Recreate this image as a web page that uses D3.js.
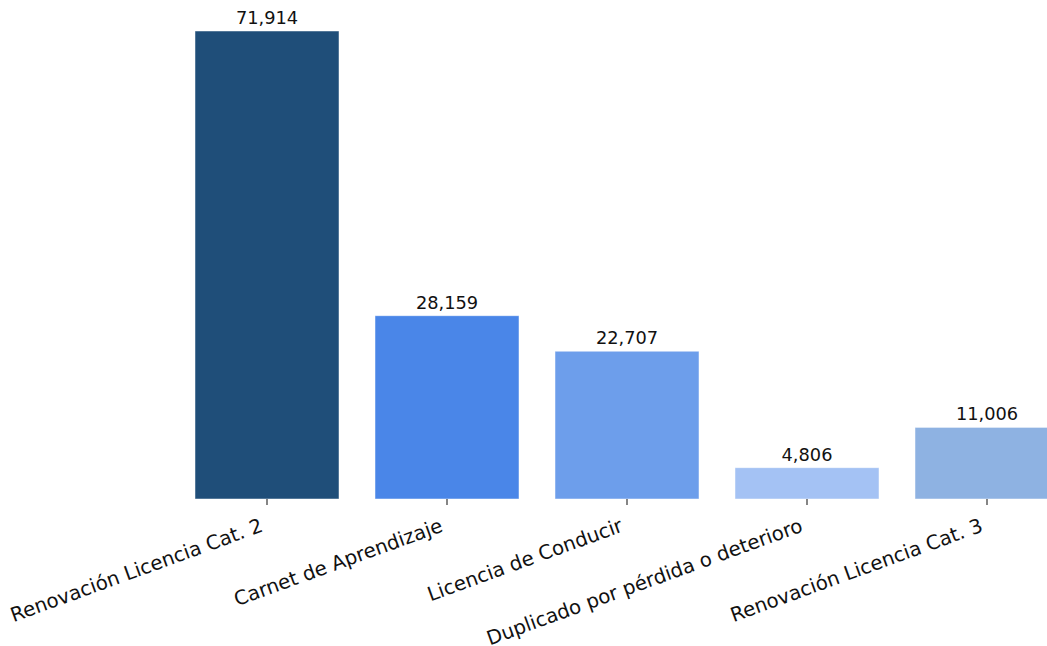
<!DOCTYPE html>
<html>
<head>
<meta charset="utf-8">
<script src="https://cdn.jsdelivr.net/npm/d3@7"></script>
<style>
  html, body { margin: 0; padding: 0; background: #fff; }
  svg { display: block; }
  text { font-family: "DejaVu Sans", sans-serif; fill: #111; }
</style>
</head>
<body>
<div id="chart"></div>
<script>
const categories = [
  "Renovación Licencia Cat. 2",
  "Carnet de Aprendizaje",
  "Licencia de Conducir",
  "Duplicado por pérdida o deterioro",
  "Renovación Licencia Cat. 3"
];
const values = [71914, 28159, 22707, 4806, 11006];
const colors = ["#1f4e79", "#4a86e8", "#6d9eeb", "#a4c2f4", "#8eb2e2"];

const W = 1047, H = 646;
const svg = d3.select("#chart").append("svg").attr("width", W).attr("height", H);

const baseY = 499;
const x = d3.scaleBand().domain(categories).range([177, 1077]).paddingInner(0.2).paddingOuter(0.1);
const yMax = d3.max(values) * 1.05;
const y = d3.scaleLinear().domain([0, yMax]).range([baseY, baseY - 468 * 1.05]);

const fmt = d3.format(",");

svg.append("g").selectAll("rect").data(categories).join("rect")
  .attr("x", d => x(d))
  .attr("y", (d, i) => y(values[i]))
  .attr("width", x.bandwidth())
  .attr("height", (d, i) => y(0) - y(values[i]))
  .attr("fill", (d, i) => colors[i])
  .attr("stroke", "#ffffff")
  .attr("stroke-opacity", 0.6)
  .attr("stroke-width", 0.8);

svg.append("g").selectAll("text").data(categories).join("text")
  .attr("x", d => x(d) + x.bandwidth() / 2)
  .attr("y", (d, i) => y(values[i]) - 7)
  .attr("text-anchor", "middle")
  .attr("font-size", "17.8px")
  .text((d, i) => fmt(values[i]));

// x axis: ticks only, no domain line
const xAxis = d3.axisBottom(x).tickSize(6).tickSizeOuter(0).tickFormat("");
const ax = svg.append("g").attr("transform", `translate(0,${baseY})`).call(xAxis);
ax.select(".domain").remove();
ax.selectAll(".tick line").attr("stroke", "#222").attr("stroke-width", 1.1);

// rotated tick labels
svg.append("g").selectAll("text").data(categories).join("text")
  .attr("text-anchor", "end")
  .attr("font-size", "19.8px")
  .attr("transform", d => `translate(${x(d) + x.bandwidth() / 2 - 3},${baseY + 32}) rotate(-20)`)
  .text(d => d);
</script>
</body>
</html>
